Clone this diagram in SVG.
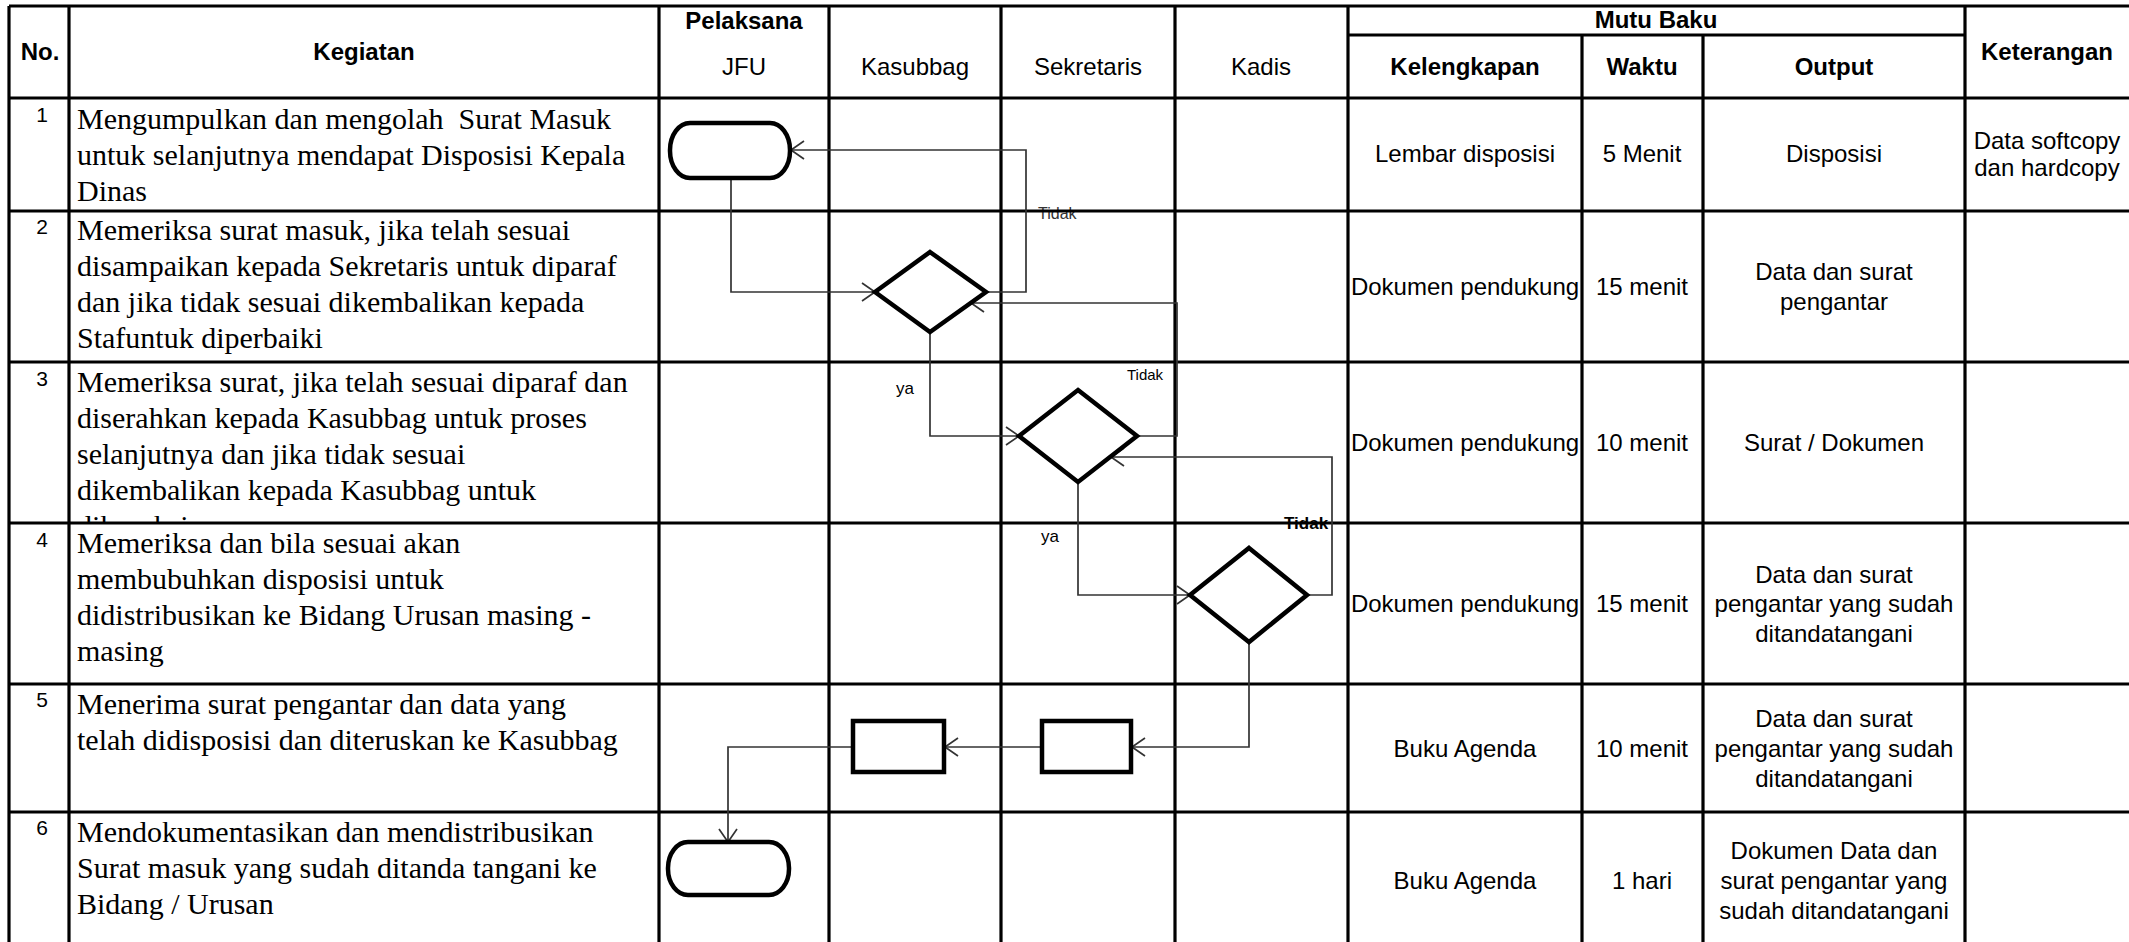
<svg xmlns="http://www.w3.org/2000/svg" width="2129" height="942" viewBox="0 0 2129 942">
<style>
.tl{stroke:#000;stroke-width:3.2;fill:none}
.hb{font-family:"Liberation Sans",Arial,sans-serif;font-size:24px;font-weight:bold;fill:#000;text-anchor:middle}
.hr{font-family:"Liberation Sans",Arial,sans-serif;font-size:24px;fill:#000;text-anchor:middle}
.num{font-family:"Liberation Sans",Arial,sans-serif;font-size:21px;fill:#000;text-anchor:middle}
.keg{font-family:"Liberation Serif","Times New Roman",serif;font-size:30px;fill:#000;white-space:pre}
.lbl{font-family:"Liberation Sans",Arial,sans-serif;fill:#000}
.node{fill:#fff;stroke:#000;stroke-width:4.5;stroke-linejoin:miter}
.con{fill:none;stroke:#333;stroke-width:1.7}
</style>
<defs>
<marker id="arr" markerUnits="userSpaceOnUse" markerWidth="30" markerHeight="30" refX="0" refY="0" viewBox="-15 -15 30 30" orient="auto" overflow="visible">
<path d="M -13 -9 L 0 0 L -13 9" fill="none" stroke="#333" stroke-width="1.7"/>
</marker>
<clipPath id="clip3"><rect x="69" y="362" width="590" height="160"/></clipPath>
</defs>
<rect x="0" y="0" width="2129" height="942" fill="#fff"/>

<g id="labels">
<text class="lbl" x="1038" y="219" font-size="16" style="fill:#333">Tidak</text>
<text class="lbl" x="1127" y="380" font-size="15">Tidak</text>
<text class="lbl" x="896" y="394" font-size="17">ya</text>
<text class="lbl" x="1041" y="542" font-size="17">ya</text>
<text class="lbl" x="1284" y="529" font-size="17" font-weight="bold">Tidak</text>
</g>

<g id="table">
<line class="tl" x1="9" y1="6" x2="2129" y2="6"/>
<line class="tl" x1="1348" y1="35" x2="1965" y2="35"/>
<line class="tl" x1="9" y1="98" x2="2129" y2="98"/>
<line class="tl" x1="9" y1="211" x2="2129" y2="211"/>
<line class="tl" x1="9" y1="362" x2="2129" y2="362"/>
<line class="tl" x1="9" y1="523" x2="2129" y2="523"/>
<line class="tl" x1="9" y1="684" x2="2129" y2="684"/>
<line class="tl" x1="9" y1="812" x2="2129" y2="812"/>
<line class="tl" x1="9" y1="6" x2="9" y2="942"/>
<line class="tl" x1="69" y1="6" x2="69" y2="942"/>
<line class="tl" x1="659" y1="6" x2="659" y2="942"/>
<line class="tl" x1="829" y1="6" x2="829" y2="942"/>
<line class="tl" x1="1001" y1="6" x2="1001" y2="942"/>
<line class="tl" x1="1175" y1="6" x2="1175" y2="942"/>
<line class="tl" x1="1348" y1="6" x2="1348" y2="942"/>
<line class="tl" x1="1582" y1="35" x2="1582" y2="942"/>
<line class="tl" x1="1703" y1="35" x2="1703" y2="942"/>
<line class="tl" x1="1965" y1="6" x2="1965" y2="942"/>

<text class="hb" x="40" y="60">No.</text>
<text class="hb" x="364" y="60">Kegiatan</text>
<text class="hb" x="744" y="29">Pelaksana</text>
<text class="hr" x="744" y="75">JFU</text>
<text class="hr" x="915" y="75">Kasubbag</text>
<text class="hr" x="1088" y="75">Sekretaris</text>
<text class="hr" x="1261" y="75">Kadis</text>
<text class="hb" x="1656" y="28">Mutu Baku</text>
<text class="hb" x="1465" y="75">Kelengkapan</text>
<text class="hb" x="1642" y="75">Waktu</text>
<text class="hb" x="1834" y="75">Output</text>
<text class="hb" x="2047" y="60">Keterangan</text>

<text class="num" x="42" y="122">1</text>
<text class="num" x="42" y="234">2</text>
<text class="num" x="42" y="386">3</text>
<text class="num" x="42" y="547">4</text>
<text class="num" x="42" y="707">5</text>
<text class="num" x="42" y="835">6</text>

<text class="keg" x="77" y="129">Mengumpulkan dan mengolah  Surat Masuk</text>
<text class="keg" x="77" y="165">untuk selanjutnya mendapat Disposisi Kepala</text>
<text class="keg" x="77" y="201">Dinas</text>

<text class="keg" x="77" y="240">Memeriksa surat masuk, jika telah sesuai</text>
<text class="keg" x="77" y="276">disampaikan kepada Sekretaris untuk diparaf</text>
<text class="keg" x="77" y="312">dan jika tidak sesuai dikembalikan kepada</text>
<text class="keg" x="77" y="348">Stafuntuk diperbaiki</text>

<g clip-path="url(#clip3)">
<text class="keg" x="77" y="392">Memeriksa surat, jika telah sesuai diparaf dan</text>
<text class="keg" x="77" y="428">diserahkan kepada Kasubbag untuk proses</text>
<text class="keg" x="77" y="464">selanjutnya dan jika tidak sesuai</text>
<text class="keg" x="77" y="500">dikembalikan kepada Kasubbag untuk</text>
<text class="keg" x="77" y="536">dikoreksi</text>
</g>

<text class="keg" x="77" y="553">Memeriksa dan bila sesuai akan</text>
<text class="keg" x="77" y="589">membubuhkan disposisi untuk</text>
<text class="keg" x="77" y="625">didistribusikan ke Bidang Urusan masing -</text>
<text class="keg" x="77" y="661">masing</text>

<text class="keg" x="77" y="714">Menerima surat pengantar dan data yang</text>
<text class="keg" x="77" y="750">telah didisposisi dan diteruskan ke Kasubbag</text>

<text class="keg" x="77" y="842">Mendokumentasikan dan mendistribusikan</text>
<text class="keg" x="77" y="878">Surat masuk yang sudah ditanda tangani ke</text>
<text class="keg" x="77" y="914">Bidang / Urusan</text>

<text class="hr" x="1465" y="162">Lembar disposisi</text>
<text class="hr" x="1642" y="162">5 Menit</text>
<text class="hr" x="1834" y="162">Disposisi</text>
<text class="hr" x="2047" y="149">Data softcopy</text>
<text class="hr" x="2047" y="176">dan hardcopy</text>

<text class="hr" x="1465" y="295">Dokumen pendukung</text>
<text class="hr" x="1642" y="295">15 menit</text>
<text class="hr" x="1834" y="280">Data dan surat</text>
<text class="hr" x="1834" y="310">pengantar</text>

<text class="hr" x="1465" y="451">Dokumen pendukung</text>
<text class="hr" x="1642" y="451">10 menit</text>
<text class="hr" x="1834" y="451">Surat / Dokumen</text>

<text class="hr" x="1465" y="612">Dokumen pendukung</text>
<text class="hr" x="1642" y="612">15 menit</text>
<text class="hr" x="1834" y="583">Data dan surat</text>
<text class="hr" x="1834" y="612">pengantar yang sudah</text>
<text class="hr" x="1834" y="642">ditandatangani</text>

<text class="hr" x="1465" y="757">Buku Agenda</text>
<text class="hr" x="1642" y="757">10 menit</text>
<text class="hr" x="1834" y="727">Data dan surat</text>
<text class="hr" x="1834" y="757">pengantar yang sudah</text>
<text class="hr" x="1834" y="787">ditandatangani</text>

<text class="hr" x="1465" y="889">Buku Agenda</text>
<text class="hr" x="1642" y="889">1 hari</text>
<text class="hr" x="1834" y="859">Dokumen Data dan</text>
<text class="hr" x="1834" y="889">surat pengantar yang</text>
<text class="hr" x="1834" y="919">sudah ditandatangani</text>
</g>

<g id="connectors">
<polyline class="con" points="731,178 731,292 875,292" marker-end="url(#arr)"/>
<polyline class="con" points="986,292 1026,292 1026,150 791,150" marker-end="url(#arr)"/>
<polyline class="con" points="930,332 930,436 1019,436" marker-end="url(#arr)"/>
<polyline class="con" points="1137,436 1177,436 1177,303 971,303" marker-end="url(#arr)"/>
<polyline class="con" points="1078,482 1078,595 1190,595" marker-end="url(#arr)"/>
<polyline class="con" points="1307,595 1332,595 1332,457 1111,457" marker-end="url(#arr)"/>
<polyline class="con" points="1249,642 1249,747 1132,747" marker-end="url(#arr)"/>
<polyline class="con" points="1042,747 945,747" marker-end="url(#arr)"/>
<polyline class="con" points="853,747 728,747 728,842" marker-end="url(#arr)"/>
</g>

<g id="start">
<rect class="node" x="670" y="123" width="120" height="55" rx="20" ry="27"/>
</g>
<g id="decision-kasubbag">
<polygon class="node" points="930,252 986,292 930,332 875,292"/>
</g>
<g id="decision-sekretaris">
<polygon class="node" points="1078,390 1137,436 1078,482 1019,436"/>
</g>
<g id="decision-kadis">
<polygon class="node" points="1249,548 1307,595 1249,642 1190,595"/>
</g>
<g id="process-sekretaris">
<rect class="node" x="1042" y="721" width="89" height="51"/>
</g>
<g id="process-kasubbag">
<rect class="node" x="853" y="721" width="91" height="51"/>
</g>
<g id="end">
<rect class="node" x="668" y="842" width="121" height="53" rx="20" ry="26"/>
</g>
</svg>
